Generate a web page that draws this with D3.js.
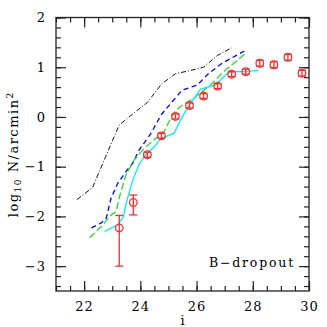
<!DOCTYPE html>
<html>
<head>
<meta charset="utf-8">
<script src="https://cdn.jsdelivr.net/npm/d3@7"></script>
<style>
  html, body { margin: 0; padding: 0; background: #fff; }
  svg { display: block; }
  text { font-family: "DejaVu Serif", "Liberation Serif", serif; fill: #000; }
</style>
</head>
<body>
<svg id="chart" width="327" height="327"></svg>
<script>
// Number counts of B-dropouts against i magnitude.

// Measured points with asymmetric errors.
const ptMag = [23.25, 23.75, 24.25, 24.75, 25.25, 25.75, 26.25, 26.75, 27.25, 27.75, 28.25, 28.75, 29.25, 29.75];
const ptVal = [-2.23, -1.72, -0.76, -0.38, 0.01, 0.23, 0.42, 0.62, 0.86, 0.91, 1.08, 1.05, 1.20, 0.88];
const ptErrLo = [0.77, 0.25, 0.05, 0.05, 0.05, 0.05, 0.05, 0.05, 0.05, 0.05, 0.06, 0.06, 0.06, 0.06];
const ptErrHi = [0.25, 0.15, 0.05, 0.05, 0.05, 0.05, 0.05, 0.05, 0.05, 0.05, 0.06, 0.06, 0.06, 0.06];

// Comparison curves.
const blackMag = [21.75, 22.3, 22.75, 23.25, 23.75, 24.25, 24.75, 25.25, 25.75, 26.25, 26.75, 27.25];
const blackVal = [-1.66, -1.42, -0.82, -0.16, 0.07, 0.29, 0.66, 0.87, 0.93, 1.0, 1.24, 1.39];

const blueMag = [22.26, 22.61, 22.79, 22.96, 23.2, 23.49, 23.73, 23.96, 24.38, 24.75, 25.14, 25.49, 26.02, 26.44, 26.91, 27.71];
const blueVal = [-2.23, -2.13, -2.03, -1.63, -1.33, -1.10, -0.93, -0.66, -0.33, 0.05, 0.31, 0.54, 0.64, 0.88, 1.08, 1.33];

const greenMag = [22.2, 22.67, 22.9, 23.14, 23.26, 23.49, 23.79, 24.14, 24.55, 24.85, 25.15, 25.4, 25.9, 26.5, 26.9, 27.71];
const greenVal = [-2.43, -2.17, -2.0, -1.90, -1.60, -1.16, -0.86, -0.63, -0.43, -0.29, 0.05, 0.2, 0.38, 0.64, 0.88, 1.26];

const cyanMag = [22.73, 23.2, 23.4, 23.49, 23.73, 23.96, 24.2, 24.5, 24.73, 25.2, 25.38, 25.67, 26.14, 26.67, 27.14, 28.2];
const cyanVal = [-2.30, -2.17, -2.0, -1.75, -1.27, -0.95, -0.75, -0.6, -0.43, -0.33, -0.12, 0.18, 0.56, 0.64, 0.90, 0.93];

// Tick values.
const xMajor = [22, 24, 26, 28, 30];
const xMinor = d3.range(21, 30.01, 0.5);
const yMajor = [-3, -2, -1, 0, 1, 2];
const yMinor = d3.range(-3.4, 2.01, 0.2).map((v) => Math.round(v * 10) / 10);

const svg = d3.select("#chart");
const plotL = 56, plotR = 309, plotT = 17.5, plotB = 291;

const x = d3.scaleLinear().domain([21, 30]).range([plotL, plotR]);
const y = d3.scaleLinear().domain([-3.5, 2]).range([plotB, plotT]);

const AXIS_COLOR = "#222";

// Inward ticks on all four sides, labels only bottom and left.
function addAxis(axis, tx, ty, values, size, labels) {
  const g = svg.append("g")
    .attr("transform", `translate(${tx},${ty})`)
    .call(axis.tickValues(values).tickSize(-size).tickSizeOuter(0)
      .tickPadding(labels === "x" ? 11 : 10)
      .tickFormat(labels ? d3.format("d") : ""));
  g.select(".domain").remove();
  g.selectAll("line").attr("stroke", AXIS_COLOR).attr("stroke-width", 1.2);
  g.selectAll("text").attr("font-size", 13).attr("letter-spacing", 1)
    .attr("font-family", "DejaVu Serif, serif").attr("fill", "#000");
  return g;
}

addAxis(d3.axisBottom(x), 0, plotB, xMinor, 5, null);
addAxis(d3.axisBottom(x), 0, plotB, xMajor, 10, "x");
addAxis(d3.axisTop(x), 0, plotT, xMinor, 5, null);
addAxis(d3.axisTop(x), 0, plotT, xMajor, 10, null);
addAxis(d3.axisLeft(y), plotL, 0, yMinor, 5, null);
addAxis(d3.axisLeft(y), plotL, 0, yMajor, 10, "y");
addAxis(d3.axisRight(y), plotR, 0, yMinor, 5, null);
addAxis(d3.axisRight(y), plotR, 0, yMajor, 10, null);

svg.append("rect")
  .attr("x", plotL).attr("y", plotT)
  .attr("width", plotR - plotL).attr("height", plotB - plotT)
  .attr("fill", "none").attr("stroke", AXIS_COLOR).attr("stroke-width", 1.3);

// Curves.
const line = d3.line().x((d) => x(d[0])).y((d) => y(d[1]));
const curves = [
  { mag: blackMag, val: blackVal, color: "#111", dash: "5,2,1,2", width: 1 },
  { mag: blueMag, val: blueVal, color: "#0000ff", dash: "5,3.5", width: 1.3 },
  { mag: greenMag, val: greenVal, color: "#22dd22", dash: "7,3", width: 1.3 },
  { mag: cyanMag, val: cyanVal, color: "#00eeff", dash: null, width: 1.3 },
];
for (const c of curves) {
  svg.append("path")
    .datum(d3.zip(c.mag, c.val))
    .attr("d", line)
    .attr("fill", "none")
    .attr("stroke", c.color)
    .attr("stroke-width", c.width)
    .attr("stroke-dasharray", c.dash);
}

// Data points: open circles with error bars.
const RED = "#ff2a2a";
const pts = ptMag.map((m, i) => ({ m, v: ptVal[i], lo: ptVal[i] - ptErrLo[i], hi: ptVal[i] + ptErrHi[i] }));
const pg = svg.append("g").attr("stroke", RED).attr("stroke-width", 1.3).attr("fill", "none");
pg.selectAll("line.bar").data(pts).join("line").attr("class", "bar")
  .attr("x1", (d) => x(d.m)).attr("x2", (d) => x(d.m))
  .attr("y1", (d) => y(d.lo)).attr("y2", (d) => y(d.hi));
pg.selectAll("line.capLo").data(pts).join("line").attr("class", "capLo")
  .attr("x1", (d) => x(d.m) - 4).attr("x2", (d) => x(d.m) + 4)
  .attr("y1", (d) => y(d.lo)).attr("y2", (d) => y(d.lo));
pg.selectAll("line.capHi").data(pts).join("line").attr("class", "capHi")
  .attr("x1", (d) => x(d.m) - 4).attr("x2", (d) => x(d.m) + 4)
  .attr("y1", (d) => y(d.hi)).attr("y2", (d) => y(d.hi));
pg.selectAll("circle").data(pts).join("circle")
  .attr("cx", (d) => x(d.m)).attr("cy", (d) => y(d.v)).attr("r", 3.8);

// Labels.
svg.append("text")
  .attr("x", 295).attr("y", 267)
  .attr("text-anchor", "end")
  .attr("font-size", 12.5).attr("letter-spacing", 1.8)
  .text("B\u2212dropout");

svg.append("text")
  .attr("x", (plotL + plotR) / 2).attr("y", 325)
  .attr("text-anchor", "middle")
  .attr("font-size", 13)
  .text("i");

const yl = svg.append("text")
  .attr("transform", `translate(18,${(plotT + plotB) / 2}) rotate(-90)`)
  .attr("text-anchor", "middle")
  .attr("font-size", 13).attr("letter-spacing", 1.5);
yl.append("tspan").text("log");
yl.append("tspan").attr("font-size", 9).attr("dy", 3).text("10");
yl.append("tspan").attr("dy", -3).text(" N/arcmin");
yl.append("tspan").attr("font-size", 9).attr("dy", -5).text("2");
</script>
</body>
</html>
